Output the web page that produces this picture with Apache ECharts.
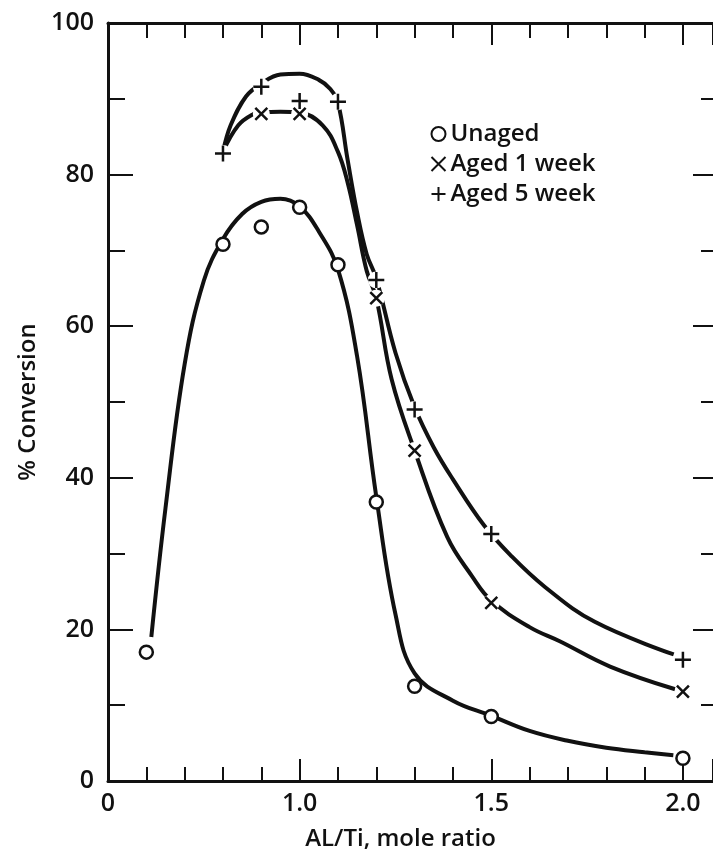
<!DOCTYPE html>
<html>
<head>
<meta charset="utf-8">
<script src="https://cdn.jsdelivr.net/npm/echarts@6/dist/echarts.min.js"></script>
<style>
html,body{margin:0;padding:0;background:#fff;}
#chart{width:713px;height:856px;}
</style>
</head>
<body>
<div id="chart"></div>
<script>
// ---- measured points (AL/Ti ratio, % conversion) ----
var unagedX = [0.6, 0.8, 0.9, 1.0, 1.1, 1.2, 1.3, 1.5, 2.0];
var unagedY = [17.0, 70.8, 73.1, 75.7, 68.1, 36.8, 12.5, 8.5, 3.0];
var aged1X = [0.9, 1.0, 1.2, 1.3, 1.5, 2.0];
var aged1Y = [88.0, 88.0, 63.7, 43.6, 23.5, 11.8];
var aged5X = [0.8, 0.9, 1.0, 1.1, 1.2, 1.3, 1.5, 2.0];
var aged5Y = [82.8, 91.6, 89.7, 89.6, 66.1, 49.0, 32.6, 16.0];

// ---- hand-drawn smooth curves ----
var unagedCurveX = [0.613, 0.65, 0.7, 0.75, 0.8, 0.85, 0.9, 0.95, 1.0, 1.05, 1.1, 1.15, 1.2, 1.25, 1.3, 1.4, 1.5, 1.6, 1.7, 1.8, 1.9, 1.975];
var unagedCurveY = [19, 36, 55, 66, 71.5, 74.8, 76.4, 76.8, 75.8, 72.5, 67.5, 56, 37.5, 22, 14.2, 10.6, 8.6, 6.6, 5.3, 4.4, 3.8, 3.4];
var aged1CurveX = [0.8, 0.84, 0.88, 0.9, 0.95, 1.0, 1.06, 1.1, 1.125, 1.15, 1.175, 1.2, 1.24, 1.3, 1.385, 1.45, 1.5, 1.6, 1.68, 1.81, 1.98];
var aged1CurveY = [83, 86.5, 88, 88.2, 88.3, 88.2, 86.5, 83, 79, 73.3, 67.3, 63.7, 53, 43.6, 32.2, 27, 23.8, 20.3, 18.4, 15.1, 12.1];
var aged5CurveX = [0.8, 0.82, 0.86, 0.9, 0.95, 1.0, 1.05, 1.08, 1.1, 1.125, 1.15, 1.175, 1.2, 1.25, 1.3, 1.35, 1.4, 1.48, 1.55, 1.64, 1.77, 1.976];
var aged5CurveY = [83, 86.5, 90.3, 92, 93.2, 93.3, 92.5, 91.3, 89.5, 82, 75, 69.5, 66.3, 56.5, 49.3, 44, 39.8, 33.8, 29.8, 25.6, 21, 16.7];

// ---- tick labels ----
var xTickValues = [0.5, 1.0, 1.5, 2.0];
var xTickLabels = ['0', '1.0', '1.5', '2.0'];
var seriesNames = ['Unaged', 'Aged 1 week', 'Aged 5 week'];
var xAxisTitle = 'AL/Ti, mole ratio';
var yAxisTitle = '% Conversion';

function pairs(xs, ys) { return xs.map(function (x, i) { return [x, ys[i]]; }); }

var FONT = '"Open Sans", "DejaVu Sans", sans-serif';
var BLACK = '#111';
var X_MIN = 0.5, X_MAX = 2.0785;

var crossPath = 'path://M0,0L10,10M10,0L0,10';
var plusPath = 'path://M5,0L5,10M0,5L10,5';

function xLabel(v) {
  for (var i = 0; i < xTickValues.length; i++) {
    if (Math.abs(v - xTickValues[i]) < 1e-6) return xTickLabels[i];
  }
  return '';
}

var chart = echarts.init(document.getElementById('chart'), null, {renderer: 'canvas'});

var baseX = {
  type: 'value', min: X_MIN, max: X_MAX, splitLine: {show: false},
  axisLabel: {show: false}
};

var option = {
  animation: false,
  backgroundColor: '#fff',
  grid: {left: 108, right: 0, top: 23, bottom: 72, containLabel: false},
  legend: {
    orient: 'vertical', left: 424, top: 117, itemGap: 6,
    itemWidth: 14, itemHeight: 14,
    data: seriesNames,
    textStyle: {fontFamily: FONT, fontSize: 24, fontWeight: 600, color: BLACK, lineHeight: 23}
  },
  xAxis: [
    Object.assign({}, baseX, {
      position: 'bottom', interval: 0.1,
      axisLine: {show: true, lineStyle: {color: BLACK, width: 3}},
      axisTick: {show: true, inside: true, length: 14, lineStyle: {color: BLACK, width: 2}},
      axisLabel: {show: true, margin: 10, fontFamily: FONT, fontSize: 25, fontWeight: 600, color: BLACK,
        formatter: xLabel, showMinLabel: true, showMaxLabel: false},
      name: xAxisTitle, nameLocation: 'middle', nameGap: 46,
      nameTextStyle: {fontFamily: FONT, fontSize: 24, fontWeight: 600, color: BLACK, padding: [0, 20, 0, 0]}
    }),
    Object.assign({}, baseX, {
      position: 'bottom', interval: 0.5,
      axisLine: {show: false},
      axisTick: {show: true, inside: true, length: 22, lineStyle: {color: BLACK, width: 2}}
    }),
    Object.assign({}, baseX, {
      position: 'top', interval: 0.1,
      axisLine: {show: true, lineStyle: {color: BLACK, width: 3}},
      axisTick: {show: true, inside: true, length: 15, lineStyle: {color: BLACK, width: 2}}
    }),
    Object.assign({}, baseX, {
      position: 'top', interval: 0.5,
      axisLine: {show: false},
      axisTick: {show: true, inside: true, length: 22, lineStyle: {color: BLACK, width: 2}}
    })
  ],
  yAxis: [
    {
      type: 'value', position: 'left', min: 0, max: 100, interval: 20,
      splitLine: {show: false},
      axisLine: {show: true, lineStyle: {color: BLACK, width: 3}},
      axisTick: {show: true, inside: true, length: 25, lineStyle: {color: BLACK, width: 2}},
      minorTick: {show: true, splitNumber: 2, length: 17, lineStyle: {color: BLACK, width: 2}},
      axisLabel: {show: true, margin: 14, fontFamily: FONT, fontSize: 25, fontWeight: 600, color: BLACK},
      name: yAxisTitle, nameLocation: 'middle', nameGap: 68, nameRotate: 90,
      nameTextStyle: {fontFamily: FONT, fontSize: 24, fontWeight: 600, color: BLACK}
    },
    {
      type: 'value', position: 'right', min: 0, max: 100, interval: 20,
      splitLine: {show: false},
      axisLine: {show: false},
      axisTick: {show: true, inside: true, length: 20, lineStyle: {color: BLACK, width: 2}},
      minorTick: {show: true, splitNumber: 2, length: 12, lineStyle: {color: BLACK, width: 2}},
      axisLabel: {show: false}
    }
  ],
  series: [
    {type: 'line', name: 'c0', data: pairs(unagedCurveX, unagedCurveY), smooth: 0.4, showSymbol: false, silent: true,
      lineStyle: {color: BLACK, width: 4}, z: 1},
    {type: 'line', name: 'c1', data: pairs(aged1CurveX, aged1CurveY), smooth: 0.4, showSymbol: false, silent: true,
      lineStyle: {color: BLACK, width: 4}, z: 1},
    {type: 'line', name: 'c2', data: pairs(aged5CurveX, aged5CurveY), smooth: 0.4, showSymbol: false, silent: true,
      lineStyle: {color: BLACK, width: 4}, z: 1},
    {type: 'scatter', name: 'halo', data: pairs(aged1X, aged1Y).concat(pairs(aged5X, aged5Y)),
      symbol: 'circle', symbolSize: 17, itemStyle: {color: '#fff', opacity: 1}, z: 2, silent: true},
    {type: 'scatter', name: seriesNames[0], data: pairs(unagedX, unagedY), symbol: 'circle', symbolSize: 13,
      itemStyle: {color: '#fff', borderColor: BLACK, borderWidth: 2.5, opacity: 1}, z: 3},
    {type: 'scatter', name: seriesNames[1], data: pairs(aged1X, aged1Y), symbol: crossPath, symbolSize: 12,
      itemStyle: {color: 'none', borderColor: BLACK, borderWidth: 2.5, opacity: 1}, z: 3},
    {type: 'scatter', name: seriesNames[2], data: pairs(aged5X, aged5Y), symbol: plusPath, symbolSize: 16,
      itemStyle: {color: 'none', borderColor: BLACK, borderWidth: 2.5, opacity: 1}, z: 3}
  ]
};
chart.setOption(option);
</script>
</body>
</html>
